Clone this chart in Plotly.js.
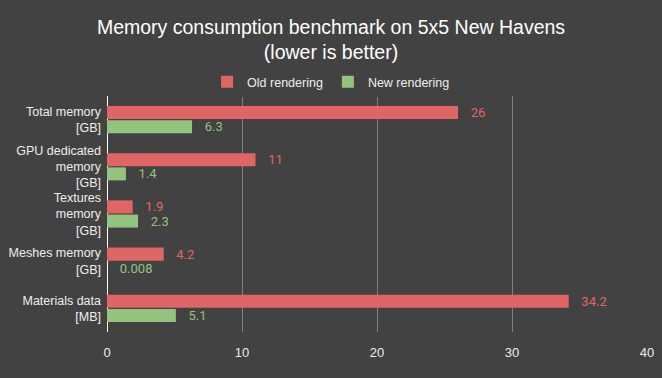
<!DOCTYPE html>
<html><head><meta charset="utf-8">
<script src="https://cdn.plot.ly/plotly-3.0.1.min.js"></script>
<style>html,body{margin:0;padding:0;background:#424242}</style>
</head><body>
<div id="chart" style="width:662px;height:378px"></div>
<script>
var categories = ["Total memory<br>[GB]", "GPU dedicated<br>memory<br>[GB]", "Textures<br>memory<br>[GB]", "Meshes memory<br>[GB]", "Materials data<br>[MB]"];
var oldRendering = [26, 11, 1.9, 4.2, 34.2];
var newRendering = [6.3, 1.4, 2.3, 0.008, 5.1];
var xTicks = [0, 10, 20, 30, 40];

var traces = [
  {type:'bar', orientation:'h', name:'Old rendering', y:categories, x:oldRendering,
   marker:{color:'#e06666'}, text:oldRendering.map(String), texttemplate:'   %{text}', constraintext:'none',
   textposition:'outside', textfont:{color:'#e06666', size:13, family:'Roboto'}, cliponaxis:false, hoverinfo:'none'},
  {type:'bar', orientation:'h', name:'New rendering', y:categories, x:newRendering,
   marker:{color:'#93c47d'}, text:newRendering.map(String), texttemplate:'   %{text}', constraintext:'none',
   textposition:'outside', textfont:{color:'#93c47d', size:13, family:'Roboto'}, cliponaxis:false, hoverinfo:'none'}
];
var layout = {
  width:662, height:378,
  paper_bgcolor:'#424242', plot_bgcolor:'#424242',
  font:{family:'"Liberation Sans", Arial, sans-serif', color:'#eeeeee', size:12},
  title:{text:'Memory consumption benchmark on 5x5 New Havens<br>(lower is better)', x:0.5, xanchor:'center', yref:'container', y:0.91, yanchor:'middle',
         font:{size:19.5, color:'#ffffff', family:'"Liberation Sans", Arial, sans-serif'}},
  margin:{l:107, r:15, t:96, b:46, autoexpand:false},
  barmode:'group', bargap:0.40, bargroupgap:0.08,
  showlegend:true,
  legend:{orientation:'h', x:0.415, xanchor:'center', y:0.995, yanchor:'bottom', itemwidth:30, font:{size:12.5, color:'#eeeeee'}, traceorder:'normal'},
  xaxis:{range:[0,40], tickvals:xTicks, ticktext:xTicks.map(String), showgrid:true, gridcolor:'#808080', gridwidth:1, ticklabelstandoff:11,
         zeroline:true, zerolinecolor:'#ffffff', zerolinewidth:1, showline:false, ticks:'', tickfont:{size:13, color:'#eeeeee'}, fixedrange:true},
  yaxis:{type:'category', autorange:'reversed', showgrid:false, zeroline:false, showline:false, ticks:'', ticklabelstandoff:5,
         tickfont:{size:12.5, color:'#eeeeee'}, fixedrange:true}
};
Plotly.newPlot('chart', traces, layout, {displayModeBar:false, staticPlot:true});
</script>
</body></html>
